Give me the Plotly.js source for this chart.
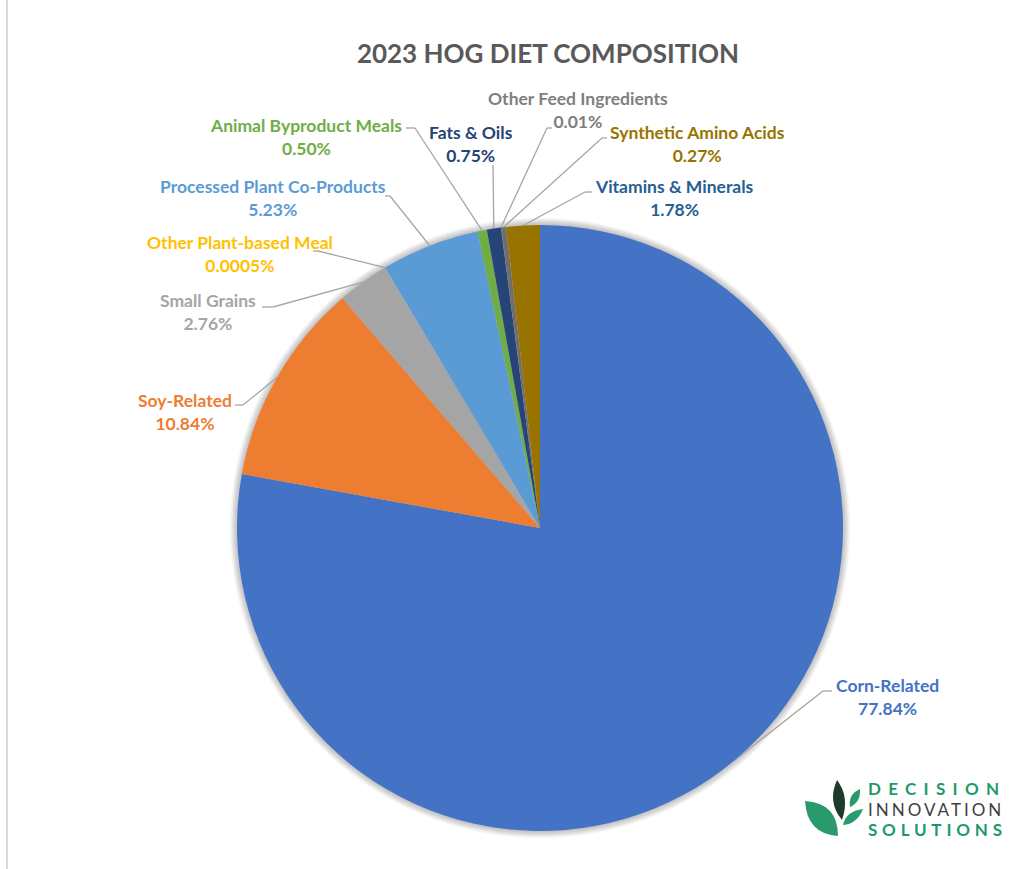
<!DOCTYPE html>
<html>
<head>
<meta charset="utf-8">
<script src="https://cdn.plot.ly/plotly-3.0.1.min.js"></script>
<style>
  html, body { margin:0; padding:0; background:#ffffff; }
  #chart { width:1027px; height:869px; }
</style>
</head>
<body>
<div id="chart"></div>
<script>
// ---- data ----
const categories = ['Corn-Related','Soy-Related','Small Grains','Other Plant-based Meal','Processed Plant Co-Products','Animal Byproduct Meals','Fats & Oils','Other Feed Ingredients','Synthetic Amino Acids','Vitamins & Minerals'];
const shares = [77.84, 10.84, 2.76, 0.0005, 5.23, 0.50, 0.75, 0.01, 0.27, 1.78];
const shareLabels = ['77.84%','10.84%','2.76%','0.0005%','5.23%','0.50%','0.75%','0.01%','0.27%','1.78%'];
const sliceColors = ['#4472C4','#ED7D31','#A5A5A5','#FFC000','#5B9BD5','#70AD47','#264478','#9E480E','#6F6F6F','#997300'];
const labelColors = ['#4472C4','#ED7D31','#A5A5A5','#FFC000','#5B9BD5','#70AD47','#264478','#7F7F7F','#997300','#255E91'];

// ---- layout (pixel positions of labels and leader elbows) ----
const W = 1027, H = 869;
const cx = 540, cy = 528, R = 303;
const labelX = [887, 185, 208, 240, 273, 306, 471, 578, 697, 674];
const labelY = [697, 412, 312, 254, 198, 137, 144, 110, 144, 198];
const leadStartX = [832, 235, 262, 313, 385, 406, 493, 552, 607, 592];
const leadStartY = [691, 405, 307, 251, 196, 128, 165, 128, 138, 192];
const leadElbowX = [823, 243, 273, 318, 390, 415, 493, 547, 602, 585];

const px = x => x / W;
const py = y => 1 - y / H;

const shapes = [];
const annotations = [];

// soft shadow around the pie (stack of faint rings just outside the pie edge)
for (let k = 7; k >= 1; k--) {
  shapes.push({type: 'circle', xref: 'paper', yref: 'paper', layer: 'below',
    x0: px(cx - R - k), x1: px(cx + R + k), y0: py(cy + R + k), y1: py(cy - R - k),
    fillcolor: 'rgba(0,0,0,0.035)', line: {width: 0}});
}

const total = shares.reduce((a, b) => a + b, 0);
let cum = 0;
shares.forEach((v, i) => {
  const midFrac = (cum + v / 2) / total;
  cum += v;
  const ang = midFrac * 2 * Math.PI;
  const ex = cx + R * Math.sin(ang);
  const ey = cy - R * Math.cos(ang);
  const lineStyle = {color: '#A6A6A6', width: 1.3};
  shapes.push({type: 'line', xref: 'paper', yref: 'paper', layer: 'below',
    x0: px(leadStartX[i]), y0: py(leadStartY[i]), x1: px(leadElbowX[i]), y1: py(leadStartY[i]), line: lineStyle});
  shapes.push({type: 'line', xref: 'paper', yref: 'paper', layer: 'below',
    x0: px(leadElbowX[i]), y0: py(leadStartY[i]), x1: px(ex), y1: py(ey), line: lineStyle});
  annotations.push({xref: 'paper', yref: 'paper', x: px(labelX[i]), y: py(labelY[i]),
    xanchor: 'center', yanchor: 'middle', showarrow: false, align: 'center',
    text: categories[i] + '<br>' + shareLabels[i],
    font: {family: 'Lato, "Open Sans", sans-serif', size: 17.5, color: labelColors[i], weight: 'bold'}});
});

// left border line
shapes.push({type: 'line', xref: 'paper', yref: 'paper', x0: px(7), x1: px(7), y0: 0, y1: 1,
  line: {color: '#D9D9D9', width: 2}});

// logo leaves
function leaf(tip, base, c1, c2, color) {
  const p = pt => px(pt[0]) + ',' + py(pt[1]);
  return {type: 'path', xref: 'paper', yref: 'paper', fillcolor: color, line: {width: 0},
    path: 'M' + p(tip) + ' Q' + p(c1) + ' ' + p(base) + ' Q' + p(c2) + ' ' + p(tip) + ' Z'};
}
shapes.push(leaf([805, 801], [838, 836], [838, 803], [807, 834], '#2A9A6C'));
shapes.push(leaf([837, 780], [842, 820], [827, 802], [850, 797], '#1E3A2C'));
shapes.push(leaf([860, 789], [850, 807], [848, 794], [861, 802], '#2A9A6C'));
shapes.push(leaf([863, 809], [843, 825], [857, 824], [846, 811], '#2A9A6C'));

const logoFont = 'Lato, "DejaVu Sans", sans-serif';
annotations.push({xref: 'paper', yref: 'paper', x: px(866), y: py(788), xanchor: 'left', yanchor: 'middle', showarrow: false,
  text: '<span style="letter-spacing:7.3px">DECISION</span>', font: {family: logoFont, size: 17, color: '#1E9A68', weight: 'bold'}});
annotations.push({xref: 'paper', yref: 'paper', x: px(866), y: py(809), xanchor: 'left', yanchor: 'middle', showarrow: false,
  text: '<span style="letter-spacing:3px">INNOVATION</span>', font: {family: logoFont, size: 17, color: '#404040', weight: 'normal'}});
annotations.push({xref: 'paper', yref: 'paper', x: px(866), y: py(829), xanchor: 'left', yanchor: 'middle', showarrow: false,
  text: '<span style="letter-spacing:4.8px">SOLUTIONS</span>', font: {family: logoFont, size: 17, color: '#1E9A68', weight: 'bold'}});

const trace = {
  type: 'pie',
  labels: categories,
  values: shares,
  sort: false,
  direction: 'clockwise',
  rotation: 0,
  textinfo: 'none',
  hoverinfo: 'label+percent',
  showlegend: false,
  marker: {colors: sliceColors, line: {width: 0}},
  domain: {x: [px(cx - R), px(cx + R)], y: [py(cy + R), py(cy - R)]}
};

const layout = {
  width: W, height: H,
  margin: {l: 0, r: 0, t: 0, b: 0},
  paper_bgcolor: '#FFFFFF',
  title: {text: '2023 HOG DIET COMPOSITION', x: px(548), y: py(54), xref: 'paper', yref: 'paper',
    xanchor: 'center', yanchor: 'middle',
    font: {family: 'Lato, "Open Sans", sans-serif', size: 26, color: '#595959', weight: 'bold'}},
  shapes: shapes,
  annotations: annotations
};

Plotly.newPlot('chart', [trace], layout, {displayModeBar: false, staticPlot: true});
</script>
</body>
</html>
